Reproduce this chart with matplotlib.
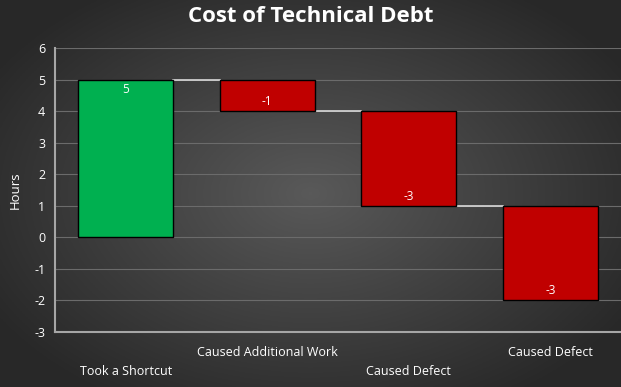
import matplotlib.pyplot as plt
import numpy as np

# waterfall data
categories = ['Took a Shortcut', 'Caused Additional Work', 'Caused Defect', 'Caused Defect']
changes = [5, -1, -3, -3]
bar_colors = ['#00B050', '#C00000', '#C00000', '#C00000']
y_ticks = [-3, -2, -1, 0, 1, 2, 3, 4, 5, 6]

fig = plt.figure(figsize=(6.21, 3.87), dpi=100)

# radial gradient background
bg = fig.add_axes([0, 0, 1, 1], zorder=-10)
gx, gy = np.meshgrid(np.linspace(-1, 1, 400), np.linspace(-1, 1, 250))
r = np.sqrt((gx * 0.95) ** 2 + (gy * 0.9) ** 2)
shade = np.clip(0.35 - 0.17 * r, 0.16, 0.35)
bg.imshow(np.dstack([shade, shade, shade]), aspect='auto', extent=[0, 1, 0, 1])
bg.axis('off')

ax = fig.add_axes([55 / 621, 1 - 332 / 387, 566 / 621, 284 / 387])
ax.set_facecolor('none')

x = np.arange(len(categories))
ends = np.cumsum(changes)
starts = ends - np.array(changes)
bottoms = np.minimum(starts, ends)
heights = np.abs(changes)
width = 0.67

ax.bar(x, heights, bottom=bottoms, width=width, color=bar_colors,
       edgecolor='black', linewidth=1, zorder=3)

# connector lines
for i in range(len(categories) - 1):
    ax.plot([x[i] + width / 2, x[i + 1] - width / 2], [ends[i], ends[i]],
            color='#d9d9d9', lw=1.2, zorder=2)

# data labels inside end
for i, v in enumerate(changes):
    if v > 0:
        ax.text(x[i], ends[i] - 0.12, str(v), ha='center', va='top',
                color='white', fontsize=8.5, family='Open Sans', zorder=4)
    else:
        ax.text(x[i], ends[i] + 0.1, str(v), ha='center', va='bottom',
                color='white', fontsize=8.5, family='Open Sans', zorder=4)

ax.set_xlim(-0.5, len(categories) - 0.5)
ax.set_ylim(-3, 6)
ax.set_yticks(y_ticks)
ax.set_yticklabels([str(t) for t in y_ticks], color='white', fontsize=9, family='Open Sans')
ax.tick_params(axis='y', length=0, pad=7)
ax.grid(axis='y', color='#6b6b6b', lw=0.8, zorder=0)

ax.set_xticks(x)
ax.set_xticklabels(categories, color='white', fontsize=9, family='Open Sans')
ax.tick_params(axis='x', length=0)
for i, tick in enumerate(ax.xaxis.get_major_ticks()):
    tick.set_pad(24 if i % 2 == 0 else 10)

for s in ['top', 'right']:
    ax.spines[s].set_visible(False)
for s in ['left', 'bottom']:
    ax.spines[s].set_color('#a6a6a6')
    ax.spines[s].set_linewidth(1.5)

ax.set_ylabel('Hours', color='white', fontsize=9.5, family='Open Sans', labelpad=9)

fig.text(0.5, 1 - 17 / 387, 'Cost of Technical Debt', ha='center', va='center',
         color='white', fontsize=16, fontweight='bold', family='Open Sans')

fig.savefig('out.png', dpi=100)
